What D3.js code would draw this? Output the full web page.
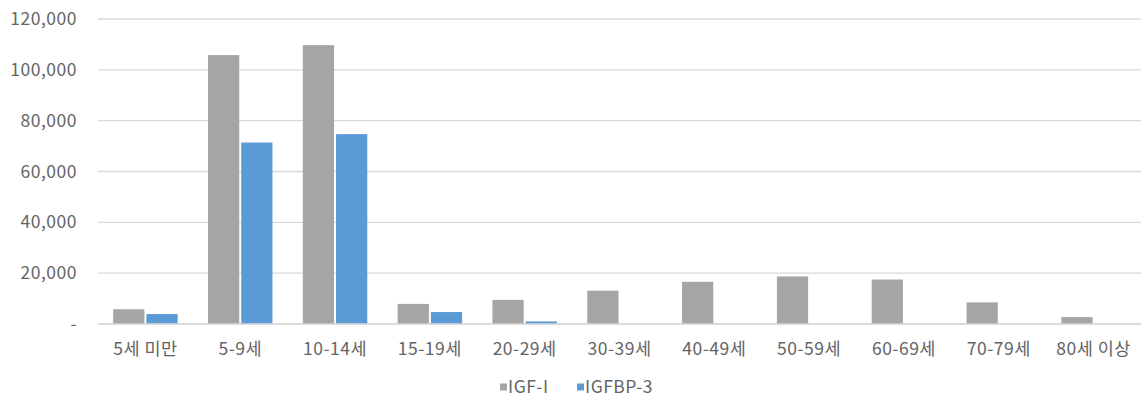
<!DOCTYPE html>
<html>
<head>
<meta charset="utf-8">
<script src="https://cdn.jsdelivr.net/npm/d3@7"></script>
<style>
  html, body { margin: 0; padding: 0; background: #fff; }
  svg { display: block; font-family: "Noto Sans CJK KR", "Noto Sans", sans-serif; }
</style>
</head>
<body>
<svg id="chart" width="1141" height="403"></svg>
<script>
// Age groups on the x axis
const categories = ["5세 미만", "5-9세", "10-14세", "15-19세", "20-29세", "30-39세",
                    "40-49세", "50-59세", "60-69세", "70-79세", "80세 이상"];
const seriesNames = ["IGF-I", "IGFBP-3"];
const igf1Values   = [5800, 105800, 109700, 7900, 9500, 13100, 16600, 18700, 17500, 8500, 2700];
const igfbp3Values = [3900, 71400, 74700, 4700, 1000, 0, 0, 0, 0, 0, 0];
const yTicks = [0, 20000, 40000, 60000, 80000, 100000, 120000];
const colors = ["#a5a5a5", "#5b9bd5"];

const svg = d3.select("#chart");
const plotLeft = 98, plotRight = 1141, plotTop = 19, plotBottom = 324;
const textColor = "#646464", fontSize = 17.5, spacing = 0.5;

const x0 = d3.scaleBand().domain(categories).range([plotLeft, plotRight])
  .paddingInner(0.32).paddingOuter(0.16);
const x1 = d3.scaleBand().domain(seriesNames).range([0, x0.bandwidth()]).paddingInner(0.06);
const y = d3.scaleLinear().domain([0, 120000]).range([plotBottom, plotTop]);

const fmt = v => v === 0 ? "-" : d3.format(",")(v);

// Horizontal gridlines
svg.append("g").selectAll("line").data(yTicks).join("line")
  .attr("x1", plotLeft).attr("x2", plotRight)
  .attr("y1", d => y(d)).attr("y2", d => y(d))
  .attr("stroke", "#d9d9d9").attr("stroke-width", 1.3);

// Y axis labels
svg.append("g").selectAll("text").data(yTicks).join("text")
  .attr("x", 77).attr("y", d => y(d))
  .attr("dy", "0.35em").attr("text-anchor", "end")
  .attr("fill", textColor).attr("font-size", fontSize)
  .attr("letter-spacing", spacing)
  .text(fmt);

// Bars
const rows = categories.map((c, i) => ({ cat: c, vals: [igf1Values[i], igfbp3Values[i]] }));
const groups = svg.append("g").selectAll("g").data(rows).join("g")
  .attr("transform", d => `translate(${x0(d.cat)},0)`);
groups.selectAll("rect")
  .data(d => d.vals.map((v, k) => ({ key: seriesNames[k], v, k })).filter(e => e.v > 0))
  .join("rect")
  .attr("x", e => x1(e.key))
  .attr("width", x1.bandwidth())
  .attr("y", e => y(e.v))
  .attr("height", e => plotBottom - y(e.v))
  .attr("fill", e => colors[e.k]);

// Baseline
svg.append("line").attr("x1", plotLeft).attr("x2", plotRight)
  .attr("y1", plotBottom).attr("y2", plotBottom)
  .attr("stroke", "#d9d9d9").attr("stroke-width", 1.3);

// X axis labels
svg.append("g").selectAll("text").data(categories).join("text")
  .attr("x", d => x0(d) + x0.bandwidth() / 2)
  .attr("y", 349).attr("dy", "0.35em").attr("text-anchor", "middle")
  .attr("fill", textColor).attr("font-size", fontSize)
  .attr("letter-spacing", spacing)
  .text(d => d);

// Legend
const legend = svg.append("g").attr("transform", "translate(500,387)");
const legendX = [0, 77];
seriesNames.forEach((name, k) => {
  const g = legend.append("g").attr("transform", `translate(${legendX[k]},0)`);
  g.append("rect").attr("x", 0).attr("y", -3.5).attr("width", 7).attr("height", 7).attr("fill", colors[k]);
  g.append("text").attr("x", 8).attr("y", 0).attr("dy", "0.35em")
    .attr("fill", textColor).attr("font-size", fontSize)
    .attr("letter-spacing", spacing).text(name);
});
</script>
</body>
</html>
